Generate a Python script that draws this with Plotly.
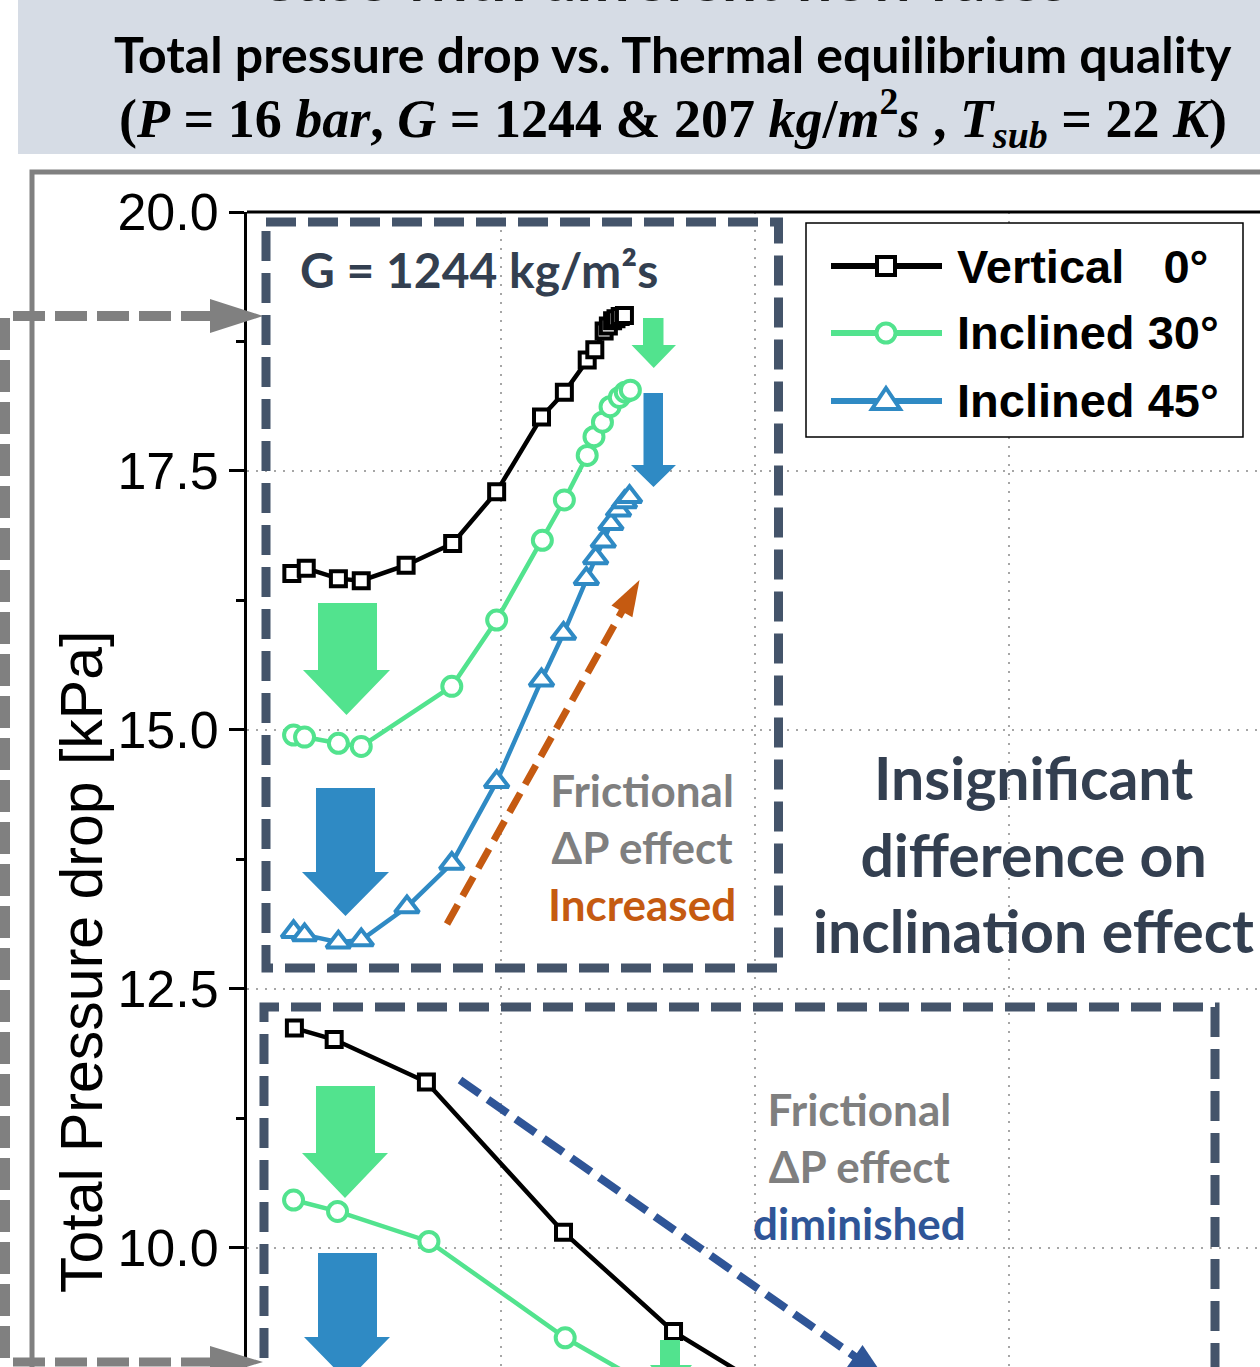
import math
import plotly.graph_objects as go

# ---------------------------------------------------------------
# Thermal equilibrium quality [-] and total pressure drop [kPa]
# ---------------------------------------------------------------
# G = 1244 kg/m2s
x_1244_v0 = [-0.0547, -0.0530, -0.0492, -0.0465, -0.0412, -0.0357, -0.0305, -0.0252,
             -0.0225, -0.0198, -0.0189, -0.0178, -0.0173, -0.0168, -0.0164, -0.0159, -0.0154]
dp_1244_v0 = [16.51, 16.56, 16.46, 16.44, 16.59, 16.80, 17.30, 18.02,
              18.26, 18.57, 18.67, 18.85, 18.90, 18.95, 18.97, 18.99, 19.00]

x_1244_i30 = [-0.0545, -0.0532, -0.0492, -0.0465, -0.0358, -0.0305, -0.0251, -0.0225,
              -0.0198, -0.0190, -0.0180, -0.0171, -0.0160, -0.0153, -0.0147]
dp_1244_i30 = [14.95, 14.93, 14.87, 14.84, 15.42, 16.06, 16.83, 17.22,
               17.65, 17.83, 17.97, 18.12, 18.21, 18.26, 18.28]

x_1244_i45 = [-0.0545, -0.0532, -0.0492, -0.0465, -0.0411, -0.0358, -0.0305, -0.0252,
              -0.0226, -0.0199, -0.0188, -0.0179, -0.0170, -0.0161, -0.0154, -0.0148]
dp_1244_i45 = [13.05, 13.02, 12.95, 12.97, 13.29, 13.71, 14.50, 15.48,
               15.93, 16.46, 16.66, 16.82, 16.99, 17.12, 17.20, 17.25]

# G = 207 kg/m2s
x_207_v0 = [-0.0544, -0.0497, -0.0388, -0.0226, -0.0096, 0.0034]
dp_207_v0 = [12.12, 12.01, 11.60, 10.15, 9.19, 8.54]

x_207_i30 = [-0.0545, -0.0493, -0.0385, -0.0224, -0.0096]
dp_207_i30 = [10.46, 10.35, 10.06, 9.13, 8.53]

series_labels = ["Vertical\u00a0\u00a0\u00a00°", "Inclined 30°", "Inclined 45°"]
series_colors = ["#000000", "#52E38E", "#2F8AC4"]

y_tick_step = 2.5
x_range = [-0.06, 0.0597]
y_range = [8.848, 20.0]

# ---------------------------------------------------------------
# Page geometry helpers (pixel -> paper coordinates)
# ---------------------------------------------------------------
W, H = 1260, 1367
ML, MT = 247, 212
PW, PH = W - ML, H - MT


def fx(x):
    return (x - ML) / PW


def fy(y):
    return 1 - (y - MT) / PH


def poly(points, close=True):
    s = "M " + " L ".join(f"{fx(x):.5f},{fy(y):.5f}" for x, y in points)
    return s + (" Z" if close else "")


shapes = []


def add_poly(points, fill, line_color=None, width=0, close=True, dash=None, layer="above"):
    shp = dict(type="path", xref="paper", yref="paper", path=poly(points, close),
               fillcolor=fill if fill else "rgba(0,0,0,0)",
               line=dict(color=line_color if line_color else "rgba(0,0,0,0)", width=width),
               layer=layer)
    if dash:
        shp["line"]["dash"] = dash
    shapes.append(shp)


def down_arrow(sl, sr, top, head_y, hl, hr, tip_y, color):
    cx = (hl + hr) / 2
    add_poly([(sl, top), (sr, top), (sr, head_y), (hr, head_y), (cx, tip_y),
              (hl, head_y), (sl, head_y)], color)


def dashed_arrow(x0, y0, x1, y1, color, width, dash, head_len, head_half):
    dx, dy = x1 - x0, y1 - y0
    L = math.hypot(dx, dy)
    ux, uy = dx / L, dy / L
    bx, by = x1 - ux * head_len, y1 - uy * head_len
    nx, ny = -uy, ux
    shapes.append(dict(type="line", xref="paper", yref="paper",
                       x0=fx(x0), y0=fy(y0), x1=fx(bx + ux * 2), y1=fy(by + uy * 2),
                       line=dict(color=color, width=width, dash=dash)))
    add_poly([(x1, y1), (bx + nx * head_half, by + ny * head_half),
              (bx - nx * head_half, by - ny * head_half)], color)


annotations = []


def add_text(text, x, y, size, color, family="Lato", xanchor="center", yanchor="middle",
             angle=0):
    annotations.append(dict(text=text, x=fx(x), y=fy(y), xref="paper", yref="paper",
                            xanchor=xanchor, yanchor=yanchor, showarrow=False,
                            textangle=angle,
                            font=dict(family=family, size=size, color=color)))


# ---------------------------------------------------------------
# Figure and data traces
# ---------------------------------------------------------------
fig = go.Figure()

marker_styles = [("square", 15), ("circle", 19), ("triangle-up", 21)]
groups = [
    (x_1244_v0, dp_1244_v0, 0), (x_1244_i30, dp_1244_i30, 1), (x_1244_i45, dp_1244_i45, 2),
    (x_207_v0, dp_207_v0, 0), (x_207_i30, dp_207_i30, 1),
]
for xs, ys, k in groups:
    sym, size = marker_styles[k]
    fig.add_trace(go.Scatter(
        x=xs, y=ys, mode="lines+markers", name=series_labels[k], showlegend=False,
        line=dict(color=series_colors[k], width=4.5),
        marker=dict(symbol=sym, size=size, color="white",
                    line=dict(color=series_colors[k], width=4)),
    ))

GREEN, BLUE = series_colors[1], series_colors[2]
SLATE = "#44546A"
TEXT_DARK = "#333F50"
GREY = "#808080"

# title band
shapes.append(dict(type="rect", xref="paper", yref="paper", x0=fx(18), x1=fx(1265),
                   y0=fy(154), y1=fy(-5), fillcolor="#D6DCE5", line=dict(width=0),
                   layer="below"))

# outer grey frame
add_poly([(32, 1400), (32, 172), (1275, 172)], None, GREY, 5, close=False)

# top border of the plot area
shapes.append(dict(type="line", xref="paper", yref="paper", x0=0, x1=1, y0=1, y1=1,
                   line=dict(color="black", width=3)))

# grey dashed pointer arrows on the left
add_poly([(5, 1400), (5, 316), (212, 316)], None, GREY, 10, close=False, dash="32px,10px")
add_poly([(210, 299), (263, 316), (210, 333)], GREY)
shapes.append(dict(type="line", xref="paper", yref="paper", x0=fx(13), x1=fx(212),
                   y0=fy(1362), y1=fy(1362), line=dict(color=GREY, width=9, dash="32px,10px")))
add_poly([(210, 1346), (263, 1362), (210, 1378)], GREY)

# dashed group boxes
add_poly([(266, 222), (778.5, 222), (778.5, 968), (266, 968)], None, SLATE, 9,
         dash="30px,12px")
add_poly([(264, 1400), (264, 1007), (1215, 1007), (1215, 1400)], None, SLATE, 9,
         close=False, dash="30px,12px")

# block arrows
down_arrow(318, 377, 603, 670, 303, 390, 715, GREEN)
down_arrow(316, 375, 788, 872, 302, 389, 916, BLUE)
down_arrow(643, 663.5, 318, 345, 631.5, 676, 368, GREEN)
down_arrow(643.5, 663, 393, 465, 631, 676, 487, BLUE)
down_arrow(316, 375, 1086, 1153, 302, 388, 1198, GREEN)
down_arrow(318, 377, 1253, 1337, 304, 390, 1381, BLUE)
down_arrow(660, 680, 1340, 1365, 650, 692, 1392, GREEN)

# trend arrows
dashed_arrow(447, 924, 639.5, 580, "#C55A11", 7, "22px,10px", 36, 12)
dashed_arrow(460, 1080, 884, 1377, "#2F5597", 8, "24px,10px", 36, 14)

# legend
shapes.append(dict(type="rect", xref="paper", yref="paper", x0=fx(806), x1=fx(1243),
                   y0=fy(437), y1=fy(223), fillcolor="white",
                   line=dict(color="black", width=1.5)))
legend_rows = [266, 333, 401]
for k, ry in enumerate(legend_rows):
    shapes.append(dict(type="line", xref="paper", yref="paper", x0=fx(831), x1=fx(942),
                       y0=fy(ry), y1=fy(ry), line=dict(color=series_colors[k], width=6)))
shapes.append(dict(type="rect", xref="paper", yref="paper", x0=fx(877), x1=fx(895),
                   y0=fy(275), y1=fy(257), fillcolor="white",
                   line=dict(color=series_colors[0], width=4)))
shapes.append(dict(type="circle", xref="paper", yref="paper", x0=fx(876.5), x1=fx(895.5),
                   y0=fy(342.5), y1=fy(323.5), fillcolor="white",
                   line=dict(color=series_colors[1], width=4)))
add_poly([(886, 388), (900, 409), (872, 409)], "white", series_colors[2], 4)
for k, ry in enumerate(legend_rows):
    add_text("<b>" + series_labels[k] + "</b>", 955, ry, 47, "black",
             family="Liberation Sans, Arial", xanchor="left")

# titles
add_text("<b>Case with different flow rates</b>", 662, -23, 62, "#1a1a1a")
add_text("<b>Total pressure drop vs. Thermal equilibrium quality</b>", 673, 54, 50, "black")
add_text("<b>(<i>P</i> = 16 <i>bar</i>, <i>G</i> = 1244 &amp; 207 <i>kg</i>/<i>m</i>"
         "<sup>2</sup><i>s</i> , <i>T</i><sub><i>sub</i></sub> = 22 <i>K</i>)</b>",
         673, 118, 54, "black", family="Liberation Serif, Times New Roman")

# axis title
add_text("Total Pressure drop [kPa]", 82, 962, 59, "black",
         family="Liberation Sans, Arial", angle=-90)

# annotations inside the plot
add_text("<b>G = 1244 kg/m²s</b>", 298, 270, 48, TEXT_DARK, xanchor="left")
add_text("<b>Frictional</b><br><b>ΔP effect</b><br><b><span style='color:#C55A11'>Increased</span></b>",
         642, 847, 44, "#7F7F7F")
add_text("<b>Frictional</b><br><b>ΔP effect</b><br><b><span style='color:#2F5597'>diminished</span></b>",
         859, 1166, 44, "#7F7F7F")
add_text("<b>Insignificant</b><br><b>difference on</b><br><b>inclination effect</b>",
         1033, 854, 59, TEXT_DARK)

grid_style = dict(showgrid=True, gridcolor="#A6A6A6", gridwidth=1.5, griddash="2px,7px")

fig.update_layout(
    width=W, height=H,
    margin=dict(l=ML, r=0, t=MT, b=0, pad=0),
    paper_bgcolor="white", plot_bgcolor="white",
    showlegend=False,
    xaxis=dict(range=x_range, dtick=0.03, tick0=0, zeroline=False, showline=False,
               showticklabels=False, ticks="", **grid_style),
    yaxis=dict(range=y_range, dtick=y_tick_step, tick0=0, tickformat=".1f",
               ticks="outside", ticklen=15, tickwidth=3, tickcolor="black",
               showline=True, linecolor="black", linewidth=3, zeroline=False,
               tickfont=dict(family="Liberation Sans, Arial", size=52, color="black"),
               minor=dict(ticks="outside", ticklen=8, tickwidth=3, tickcolor="black",
                          dtick=y_tick_step / 2, tick0=0, showgrid=False),
               **grid_style),
    shapes=shapes,
    annotations=annotations,
)

fig.write_html("out.html", config={"displayModeBar": False})
